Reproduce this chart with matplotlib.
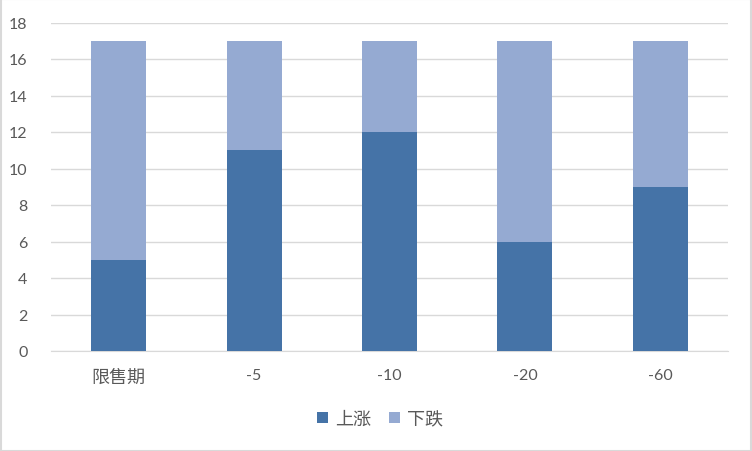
import matplotlib.pyplot as plt
import numpy as np

plt.rcParams['font.family'] = ['Lato', 'Noto Sans CJK SC', 'DejaVu Sans']

categories = ['限售期', '-5', '-10', '-20', '-60']
up = [5, 11, 12, 6, 9]
down = [12, 6, 5, 11, 8]

dark = '#4573A7'
light = '#95AAD2'
text_color = '#595959'
cjk = ['Noto Sans CJK SC', 'DejaVu Sans']

fig = plt.figure(figsize=(7.52, 4.52), dpi=100)
ax = fig.add_axes([51 / 752, 1 - 352 / 452, 677 / 752, (352 - 23.5) / 452])

x = np.arange(len(categories))
w = 0.405
ax.bar(x, up, width=w, color=dark, label='上涨', zorder=3)
ax.bar(x, down, width=w, bottom=up, color=light, label='下跌', zorder=3)

ax.set_xlim(-0.5, len(categories) - 0.5)
ax.set_ylim(0, 18)
ax.set_yticks(range(0, 19, 2))
ax.set_xticks(x)
ax.set_xticklabels(categories)
ax.grid(axis='y', color='#d9d9d9', linewidth=1, zorder=0)
for s in ['top', 'right', 'left']:
    ax.spines[s].set_visible(False)
ax.spines['bottom'].set_color('#d9d9d9')
ax.tick_params(axis='both', length=0, colors=text_color, labelsize=11.5)
ax.tick_params(axis='x', pad=12)
ax.tick_params(axis='y', pad=17)
for lbl in ax.get_xticklabels():
    if lbl.get_text() == '限售期':
        lbl.set_fontfamily(cjk)
        lbl.set_fontsize(13)

leg = fig.legend(loc='center', bbox_to_anchor=(380 / 752, 1 - 420 / 452), ncol=2,
                 frameon=False, prop={'family': cjk, 'size': 13}, handlelength=0.6,
                 handleheight=0.6, columnspacing=1.0, handletextpad=0.4,
                 labelcolor=text_color)

fig.patches.append(plt.Rectangle((0.001, 0.001), 0.998, 0.998, transform=fig.transFigure,
                                 fill=False, edgecolor='#d9d9d9', linewidth=1.5))

fig.savefig('out.png', dpi=100)
